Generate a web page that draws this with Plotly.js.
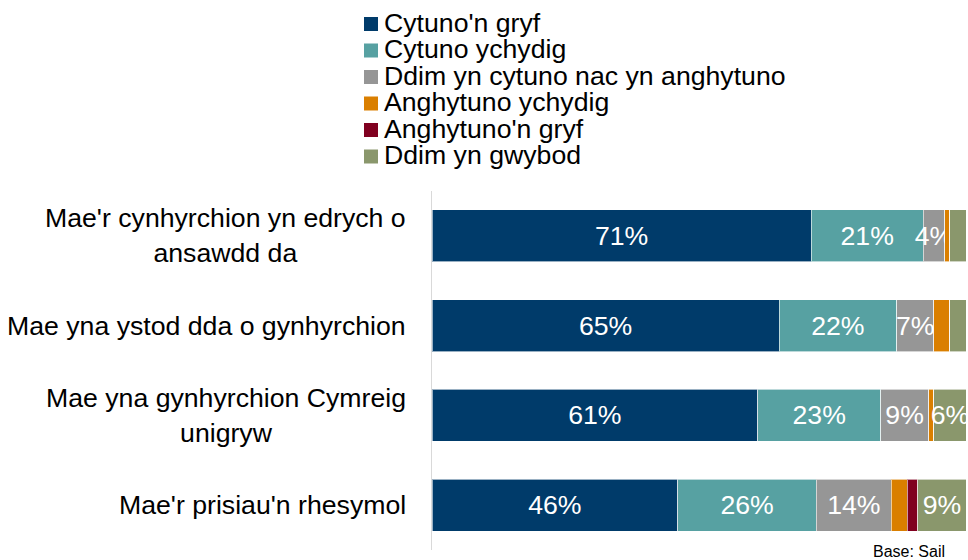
<!DOCTYPE html>
<html>
<head>
<meta charset="utf-8">
<script src="https://cdn.plot.ly/plotly-3.0.1.min.js"></script>
<style>html,body{margin:0;padding:0;background:#fff;}#chart{width:968px;height:560px;}</style>
</head>
<body>
<div id="chart"></div>
<script>
// ---- data ----
const categories = [
  "Mae'r cynhyrchion yn edrych o<br>ansawdd da",
  "Mae yna ystod dda o gynhyrchion",
  "Mae yna gynhyrchion Cymreig<br>unigryw",
  "Mae'r prisiau'n rhesymol"
];
const seriesNames = [
  "Cytuno'n gryf",
  "Cytuno ychydig",
  "Ddim yn cytuno nac yn anghytuno",
  "Anghytuno ychydig",
  "Anghytuno'n gryf",
  "Ddim yn gwybod"
];
const cytunoGryf      = [71, 65, 61, 46];
const cytunoYchydig   = [21, 22, 23, 26];
const ddimCytuno      = [4, 7, 9, 14];
const anghytunoYchydig= [1, 3, 1, 3];
const anghytunoGryf   = [0, 0, 0, 2];
const ddimGwybod      = [3, 3, 6, 9];
const seriesValues = [cytunoGryf, cytunoYchydig, ddimCytuno, anghytunoYchydig, anghytunoGryf, ddimGwybod];
const colors = ["#003B6A", "#57A1A2", "#969696", "#DA7F00", "#800020", "#8A976C"];
const baseNote = "Base: Sail";

// ---- layout helpers (pixel -> paper) ----
const W = 968, H = 560;
const M = {l: 432, r: 2, t: 191, b: 10};
const pw = W - M.l - M.r, ph = H - M.t - M.b;
const px2x = px => (px - M.l) / pw;
const py2y = py => (H - M.b - py) / ph;
const FONT = "Liberation Sans, Arial, sans-serif";
const FS = 26.67;

const traces = seriesValues.map((vals, i) => ({
  type: 'bar',
  orientation: 'h',
  name: seriesNames[i],
  y: categories,
  x: vals,
  text: vals.map(v => v >= 4 ? v + '%' : ''),
  textposition: 'inside',
  insidetextanchor: 'middle',
  constraintext: 'none',
  textangle: 0,
  textfont: {family: FONT, size: FS, color: '#ffffff'},
  marker: {color: colors[i], line: {color: 'rgba(255,255,255,0.6)', width: 1}},
  hoverinfo: 'name+x'
}));

const annotations = [];
const shapes = [];
// category labels
categories.forEach(c => {
  annotations.push({
    xref: 'paper', yref: 'y', x: px2x(408), y: c,
    xanchor: 'right', yanchor: 'middle', align: 'center',
    text: c, showarrow: false,
    font: {family: FONT, size: FS, color: '#000000'}
  });
});
// custom legend
seriesNames.forEach((n, i) => {
  const cy = 24 + i * 26.5;
  shapes.push({
    type: 'rect', xref: 'paper', yref: 'paper',
    x0: px2x(364), x1: px2x(378), y0: py2y(cy + 7), y1: py2y(cy - 7),
    fillcolor: colors[i], line: {width: 0}
  });
  annotations.push({
    xref: 'paper', yref: 'paper', x: px2x(382), y: py2y(cy - 1),
    xanchor: 'left', yanchor: 'middle', align: 'left',
    text: n, showarrow: false,
    font: {family: FONT, size: FS, color: '#000000'}
  });
});
// base note
annotations.push({
  xref: 'paper', yref: 'paper', x: px2x(947), y: py2y(551),
  xanchor: 'right', yanchor: 'middle', text: baseNote, showarrow: false,
  font: {family: FONT, size: 16, color: '#000000'}
});

const layout = {
  width: W, height: H,
  margin: M,
  barmode: 'stack',
  bargap: 0.42,
  showlegend: false,
  paper_bgcolor: '#ffffff',
  plot_bgcolor: '#ffffff',
  font: {family: FONT, size: FS, color: '#000'},
  xaxis: {range: [0, 100], visible: false, fixedrange: true},
  yaxis: {
    autorange: 'reversed', showticklabels: false, ticks: '',
    showline: true, linecolor: '#d9d9d9', linewidth: 1,
    showgrid: false, zeroline: false, fixedrange: true
  },
  annotations: annotations,
  shapes: shapes
};

Plotly.newPlot('chart', traces, layout, {displayModeBar: false, staticPlot: true});
</script>
</body>
</html>
